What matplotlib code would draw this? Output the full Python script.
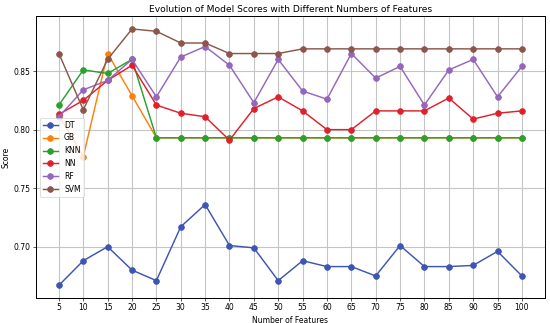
import matplotlib
matplotlib.use("Agg")
import matplotlib.pyplot as plt

# Number of features tested
features = [5, 10, 15, 20, 25, 30, 35, 40, 45, 50,
            55, 60, 65, 70, 75, 80, 85, 90, 95, 100]

# Scores per model
dt_scores = [0.667, 0.688, 0.700, 0.680, 0.671, 0.717, 0.736, 0.701, 0.699, 0.671,
             0.688, 0.683, 0.683, 0.675, 0.701, 0.683, 0.683, 0.684, 0.696, 0.675]
gb_scores = [0.812, 0.777, 0.865, 0.829, 0.793, 0.793, 0.793, 0.793, 0.793, 0.793,
             0.793, 0.793, 0.793, 0.793, 0.793, 0.793, 0.793, 0.793, 0.793, 0.793]
knn_scores = [0.821, 0.851, 0.848, 0.860, 0.793, 0.793, 0.793, 0.793, 0.793, 0.793,
              0.793, 0.793, 0.793, 0.793, 0.793, 0.793, 0.793, 0.793, 0.793, 0.793]
nn_scores = [0.813, 0.825, 0.842, 0.855, 0.821, 0.814, 0.811, 0.791, 0.818, 0.828,
             0.816, 0.800, 0.800, 0.816, 0.816, 0.816, 0.827, 0.809, 0.814, 0.816]
rf_scores = [0.811, 0.834, 0.842, 0.860, 0.828, 0.862, 0.871, 0.855, 0.823, 0.860,
             0.833, 0.826, 0.865, 0.844, 0.854, 0.821, 0.851, 0.860, 0.828, 0.854]
svm_scores = [0.865, 0.817, 0.860, 0.886, 0.884, 0.874, 0.874, 0.865, 0.865, 0.865,
              0.869, 0.869, 0.869, 0.869, 0.869, 0.869, 0.869, 0.869, 0.869, 0.869]

models = ["DT", "GB", "KNN", "NN", "RF", "SVM"]
colors = ["#3d55b3", "#ff7f0e", "#2ca02c", "#e0202a", "#9467bd", "#8c564b"]
all_scores = [dt_scores, gb_scores, knn_scores, nn_scores, rf_scores, svm_scores]

fig = plt.figure(figsize=(10, 5.873), dpi=55)
ax = plt.gca()
for name, scores, c in zip(models, all_scores, colors):
    plt.plot(features, scores, marker="o", label=name, color=c,
             markersize=7.5, linewidth=1.9)

plt.title("Evolution of Model Scores with Different Numbers of Features")
plt.xlabel("Number of Features")
plt.ylabel("Score")
plt.xticks(features)
plt.yticks([0.70, 0.75, 0.80, 0.85])
plt.grid(True, color="#c4c4c4", linewidth=1.4)
for s in ax.spines.values():
    s.set_linewidth(1.3)
plt.legend(loc="center left")
plt.subplots_adjust(left=0.065, right=0.991, top=0.950, bottom=0.077)
plt.savefig("out.png", dpi=55)
